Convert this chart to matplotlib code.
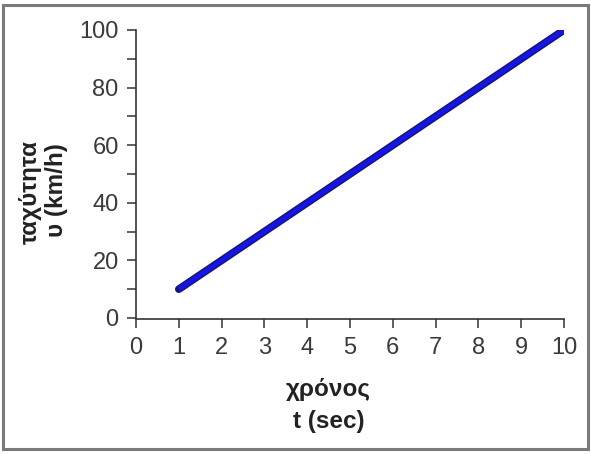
import matplotlib.pyplot as plt
from matplotlib.patches import Rectangle

# data
t_sec = [1, 2, 3, 4, 5, 6, 7, 8, 9, 10]
v_kmh = [10, 20, 30, 40, 50, 60, 70, 80, 90, 100]

x_ticks = list(range(0, 11))
y_major = [0, 20, 40, 60, 80, 100]
y_minor = [10, 30, 50, 70, 90]

# narrow face for the tick numbers, normal width for the axis titles
plt.rcParams['font.family'] = ['Liberation Sans', 'DejaVu Sans']
plt.rcParams['font.stretch'] = 'condensed'

fig = plt.figure(figsize=(5.91, 4.54), dpi=100)
ax = fig.add_axes([136 / 591, 1 - 318 / 454, 428 / 591, 288 / 454])

# frame around the whole picture
fig.patches.append(Rectangle((3 / 591, 5 / 454), 585 / 591, 444 / 454,
                             transform=fig.transFigure, fill=False,
                             edgecolor='#7a7a7a', linewidth=2.2))

# line: dark outline under a blue core
ax.plot(t_sec, v_kmh, color='#141478', linewidth=5.5, solid_capstyle='round')
ax.plot(t_sec, v_kmh, color='#1515e6', linewidth=3.4, solid_capstyle='butt')

ax.set_xlim(0, 10)
ax.set_ylim(0, 100)
ax.set_xticks(x_ticks)
ax.set_yticks(y_major)
ax.set_yticks(y_minor, minor=True)
ax.tick_params(axis='both', which='both', direction='out', length=6.5,
               width=1.1, color='#333333', pad=6, labelsize=17,
               labelcolor='#3a3a3a')

for side in ['top', 'right']:
    ax.spines[side].set_visible(False)
for side in ['left', 'bottom']:
    ax.spines[side].set_color('#333333')
    ax.spines[side].set_linewidth(1.2)
ax.spines['bottom'].set_position(('outward', 1))

title_kw = dict(fontsize=17.5, fontweight='bold', fontstretch='normal',
                color='#222222')
fig.text(328 / 591, 1 - 396 / 454, 'χρόνος', ha='center', va='baseline',
         **title_kw)
fig.text(329 / 591, 1 - 428 / 454, 't (sec)', ha='center', va='baseline',
         **title_kw)
fig.text(30 / 591, 1 - 192 / 454, 'ταχύτητα', ha='center', va='center',
         rotation=90, **title_kw)
fig.text(57 / 591, 1 - 190 / 454, 'υ (km/h)', ha='center', va='center',
         rotation=90, **title_kw)

fig.savefig('out.png', dpi=100)
